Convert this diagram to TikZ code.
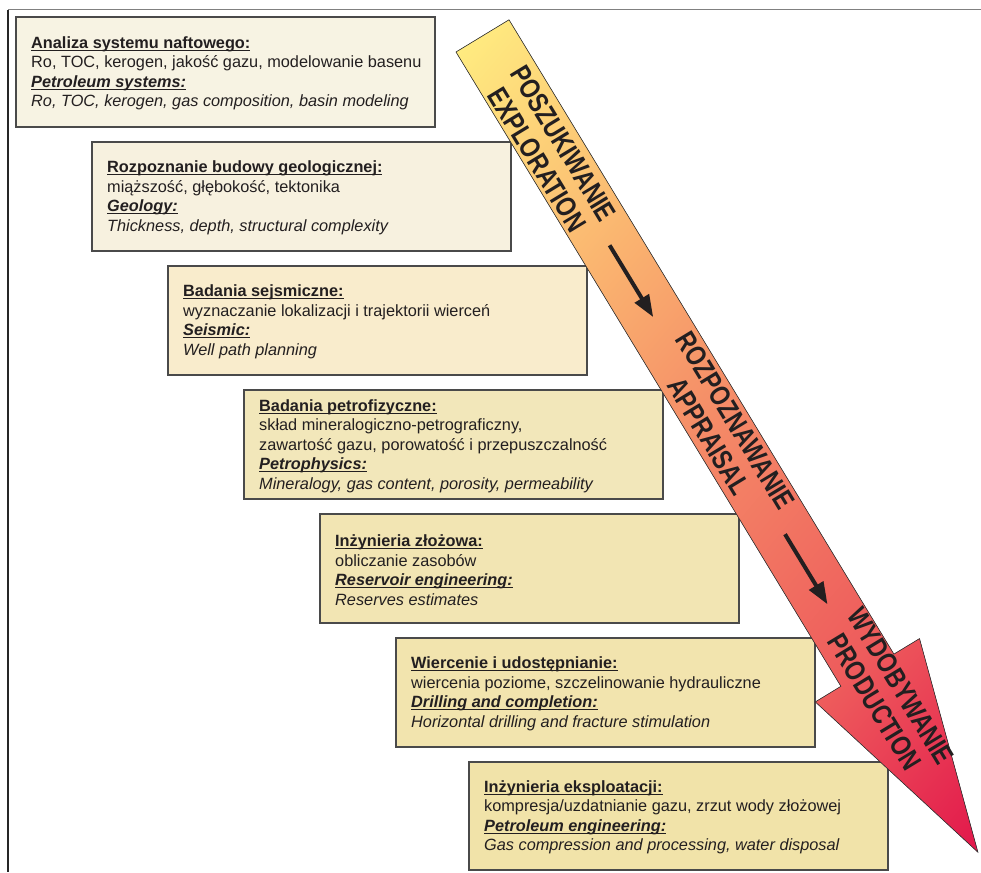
\documentclass[tikz,border=0pt]{standalone}
\usepackage{fontspec}
\setmainfont{Liberation Sans}
\newfontface\labelfont[FakeStretch=0.8]{Liberation Sans Bold}
\usetikzlibrary{arrows.meta}
\definecolor{txt}{HTML}{231F20}
\definecolor{boxline}{HTML}{4A4A4A}
\definecolor{bxa}{HTML}{F7F3E3}
\definecolor{bxb}{HTML}{F7F1DF}
\definecolor{bxc}{HTML}{F9ECCC}
\definecolor{bxd}{HTML}{F2E7BA}
\definecolor{bxe}{HTML}{F2E5B3}
\definecolor{bxf}{HTML}{F2E4AE}
\definecolor{bxg}{HTML}{F1E3A9}
\definecolor{aone}{RGB}{255,236,128}
\definecolor{atwo}{RGB}{250,178,111}
\definecolor{athree}{RGB}{244,134,102}
\definecolor{afour}{RGB}{238,92,92}
\definecolor{afive}{RGB}{226,22,75}
\pgfdeclareverticalshading{arrowgrad}{100bp}{color(0bp)=(afive); color(25bp)=(afive); color(37bp)=(afour); color(50bp)=(athree); color(61bp)=(atwo); color(75bp)=(aone); color(100bp)=(aone)}
\newcommand\myul[1]{\leavevmode\setbox0\hbox{#1}\rlap{\rule[-2.4pt]{\wd0}{1.1pt}}\box0}
\tikzset{
  x=1pt, y=-1pt,
  infobox/.style={draw=boxline, line width=1.3pt, anchor=north west, minimum width=419pt, minimum height=109pt, inner sep=0pt, outer sep=0pt},
  infotext/.style={anchor=west, align=left, inner sep=0pt, text=txt, font=\fontsize{16.3}{19.5}\selectfont},
  phase/.style={rotate=-58.74, align=center, inner sep=0pt, text=txt, font={\fontsize{28.4}{31}\selectfont\labelfont}},
  arrowline/.style={draw=black!80, line width=0.6pt, line join=miter},
  smallarrow/.style={draw=txt, line width=4pt, -{Triangle[length=22pt,width=16pt]}},
}
\begin{document}
\begin{tikzpicture}
\useasboundingbox (0,0) rectangle (981,872);
% frame
\draw[black!50, line width=1pt] (8,10) -- (981,10);
\draw[black!85, line width=1.3pt] (8,10) -- (8,872);

% boxes
\node[infobox, fill=bxa, minimum height=110pt] (b1) at (16,17) {};
\node[infobox, fill=bxb] (b2) at (92,142) {};
\node[infobox, fill=bxc] (b3) at (168,266) {};
\node[infobox, fill=bxd] (b4) at (244,390) {};
\node[infobox, fill=bxe] (b5) at (320,514) {};
\node[infobox, fill=bxf] (b6) at (396,638) {};
\node[infobox, fill=bxg, minimum height=108pt] (b7) at (469,762) {};

\node[infotext] (t1) at ([xshift=15pt,yshift=-1.5pt]b1.west) {\myul{\bfseries Analiza systemu naftowego:}\\
Ro, TOC, kerogen, jakość gazu, modelowanie basenu\\
\myul{\bfseries\itshape Petroleum systems:}\\
\itshape Ro, TOC, kerogen, gas composition, basin modeling};

\node[infotext] (t2) at ([xshift=15pt,yshift=-1.5pt]b2.west) {\myul{\bfseries Rozpoznanie budowy geologicznej:}\\
miąższość, głębokość, tektonika\\
\myul{\bfseries\itshape Geology:}\\
\itshape Thickness, depth, structural complexity};

\node[infotext] (t3) at ([xshift=15pt,yshift=-1.5pt]b3.west) {\myul{\bfseries Badania sejsmiczne:}\\
wyznaczanie lokalizacji i trajektorii wierceń\\
\myul{\bfseries\itshape Seismic:}\\
\itshape Well path planning};

\node[infotext] (t4) at ([xshift=15pt,yshift=-1.5pt]b4.west) {\myul{\bfseries Badania petrofizyczne:}\\
skład mineralogiczno-petrograficzny,\\
zawartość gazu, porowatość i przepuszczalność\\
\myul{\bfseries\itshape Petrophysics:}\\
\itshape Mineralogy, gas content, porosity, permeability};

\node[infotext] (t5) at ([xshift=15pt,yshift=-1.5pt]b5.west) {\myul{\bfseries Inżynieria złożowa:}\\
obliczanie zasobów\\
\myul{\bfseries\itshape Reservoir engineering:}\\
\itshape Reserves estimates};

\node[infotext] (t6) at ([xshift=15pt,yshift=-1.5pt]b6.west) {\myul{\bfseries Wiercenie i udostępnianie:}\\
wiercenia poziome, szczelinowanie hydrauliczne\\
\myul{\bfseries\itshape Drilling and completion:}\\
\itshape Horizontal drilling and fracture stimulation};

\node[infotext] (t7) at ([xshift=15pt,yshift=-1.5pt]b7.west) {\myul{\bfseries Inżynieria eksploatacji:}\\
kompresja/uzdatnianie gazu, zrzut wody złożowej\\
\myul{\bfseries\itshape Petroleum engineering:}\\
\itshape Gas compression and processing, water disposal};

% big arrow
\coordinate (A) at (456,52);
\coordinate (B) at (509,19.8);
\coordinate (D) at (893.9,654.1);
\coordinate (F) at (919.5,638.6);
\coordinate (G) at (977.9,852.2);
\coordinate (E) at (815.3,701.9);
\coordinate (C) at (840.9,686.3);
\begin{scope}
  \clip (A) -- (B) -- (D) -- (F) -- (G) -- (E) -- (C) -- cycle;
  \begin{scope}[transform canvas={rotate=50}]
    \fill[shading=arrowgrad] (-60,380) rectangle (340,1300);
  \end{scope}
\end{scope}
\draw[arrowline] (A) -- (B) -- (D) -- (F) -- (G) -- (E) -- (C) -- cycle;

% small arrows
\coordinate (s1) at (609.6,245.3);
\coordinate (e1) at (653.2,317.1);
\coordinate (s2) at (785,534.2);
\coordinate (e2) at (827.5,604.3);
\draw[smallarrow] (s1) -- (e1);
\draw[smallarrow] (s2) -- (e2);

% phase labels
\node[phase] (p1) at (550.3,151.5) {POSZUKIWANIE\\EXPLORATION};
\node[phase] (p2) at (722,428.6) {ROZPOZNAWANIE\\APPRAISAL};
\node[phase] (p3) at (887.8,694.1) {WYDOBYWANIE\\PRODUCTION};
\end{tikzpicture}
\end{document}
